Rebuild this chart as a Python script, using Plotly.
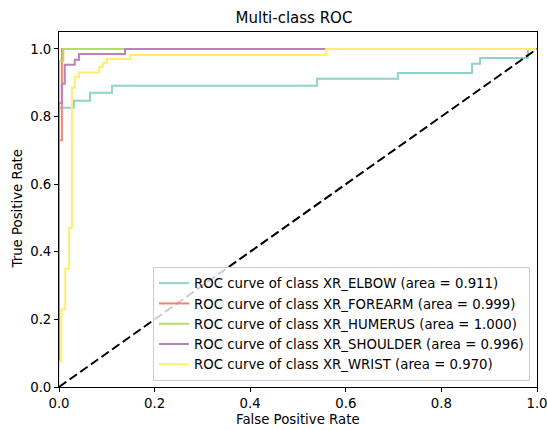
import plotly.graph_objects as go

classes = ["XR_ELBOW", "XR_FOREARM", "XR_HUMERUS", "XR_SHOULDER", "XR_WRIST"]
areas = ["0.911", "0.999", "1.000", "0.996", "0.970"]
colors = ["#8dd3c7", "#fb8072", "#b3de69", "#bc80bd", "#ffed6f"]

fpr_elbow = [0, 0, 0.031, 0.031, 0.065, 0.065, 0.111, 0.111, 0.54, 0.54, 0.709, 0.709, 0.864, 0.864, 0.881, 0.881, 0.981, 0.981, 1.0]
tpr_elbow = [0, 0.826, 0.826, 0.847, 0.847, 0.870, 0.870, 0.891, 0.891, 0.912, 0.912, 0.929, 0.929, 0.956, 0.956, 0.973, 0.973, 1.0, 1.0]

fpr_forearm = [0, 0, 0.006, 0.006, 1.0]
tpr_forearm = [0, 0.73, 0.73, 1.0, 1.0]

fpr_humerus = [0, 0, 0.009, 0.009, 1.0]
tpr_humerus = [0, 0.965, 0.965, 1.0, 1.0]

fpr_shoulder = [0, 0, 0.006, 0.006, 0.012, 0.012, 0.033, 0.033, 0.042, 0.042, 0.138, 0.138, 1.0]
tpr_shoulder = [0, 0.84, 0.84, 0.897, 0.897, 0.953, 0.953, 0.968, 0.968, 0.985, 0.985, 1.0, 1.0]

fpr_wrist = [0, 0, 0.005, 0.005, 0.013, 0.013, 0.021, 0.021, 0.027, 0.027, 0.033, 0.033, 0.042, 0.042, 0.084, 0.084, 0.092, 0.092, 0.10, 0.10, 0.149, 0.149, 0.559, 0.559, 1.0]
tpr_wrist = [0, 0.075, 0.075, 0.23, 0.23, 0.35, 0.35, 0.47, 0.47, 0.885, 0.885, 0.917, 0.917, 0.93, 0.93, 0.947, 0.947, 0.959, 0.959, 0.97, 0.97, 0.982, 0.982, 1.0, 1.0]

diag_x = [0, 1]
diag_y = [0, 1]

tick_vals = [0, 0.2, 0.4, 0.6, 0.8, 1.0]
tick_text = ["0.0", "0.2", "0.4", "0.6", "0.8", "1.0"]

fprs = [fpr_elbow, fpr_forearm, fpr_humerus, fpr_shoulder, fpr_wrist]
tprs = [tpr_elbow, tpr_forearm, tpr_humerus, tpr_shoulder, tpr_wrist]

W, H = 547, 430
L, R, T, B = 59, 10, 32, 43
pw, ph = W - L - R, H - T - B

fig = go.Figure()
for name, area, col, fx, ty in zip(classes, areas, colors, fprs, tprs):
    fig.add_trace(go.Scatter(
        x=fx, y=ty, mode="lines",
        line=dict(color=col, width=2),
        name=f"ROC curve of class {name} (area = {area})",
    ))
fig.add_trace(go.Scatter(
    x=diag_x, y=diag_y, mode="lines",
    line=dict(color="black", width=2, dash="9px,4px"),
    showlegend=False,
))

font = "DejaVu Sans"
fs = 13.3
fig.update_layout(
    width=W, height=H,
    margin=dict(l=L, r=R, t=T, b=B),
    paper_bgcolor="white", plot_bgcolor="white",
    font=dict(family=font, size=fs, color="black"),
    title=dict(text="Multi-class ROC", x=294 / W, xanchor="center", xref="container",
               y=1 - 18 / H, yanchor="middle", yref="container",
               font=dict(size=15, color="black")),
    legend=dict(x=(530 - L) / pw, y=(387 - 381) / ph, xanchor="right", yanchor="bottom",
                bgcolor="rgba(255,255,255,0.8)", bordercolor="#cccccc", borderwidth=1,
                font=dict(size=fs, color="black")),
    showlegend=True,
    annotations=[
        dict(text="False Positive Rate", xref="paper", yref="paper",
             x=0.5, y=-(419 - (H - B)) / ph, xanchor="center", yanchor="middle",
             showarrow=False, font=dict(size=fs, color="black")),
        dict(text="True Positive Rate", xref="paper", yref="paper",
             x=-(L - 17) / pw, y=0.5, xanchor="center", yanchor="middle",
             textangle=-90, showarrow=False, font=dict(size=fs, color="black")),
    ],
)
axis_common = dict(tickvals=tick_vals, ticktext=tick_text, showgrid=False, zeroline=False,
                   showline=True, mirror=True, linecolor="black", linewidth=1,
                   ticks="outside", ticklen=4, tickcolor="black", automargin=False,
                   ticklabeloverflow="allow")
fig.update_xaxes(range=[0, 1.0], **axis_common)
fig.update_yaxes(range=[0, 1.05], **axis_common)

fig.write_html("out.html", config={"displayModeBar": False},
               post_script="document.body.style.margin='0';document.body.style.overflow='hidden';")
